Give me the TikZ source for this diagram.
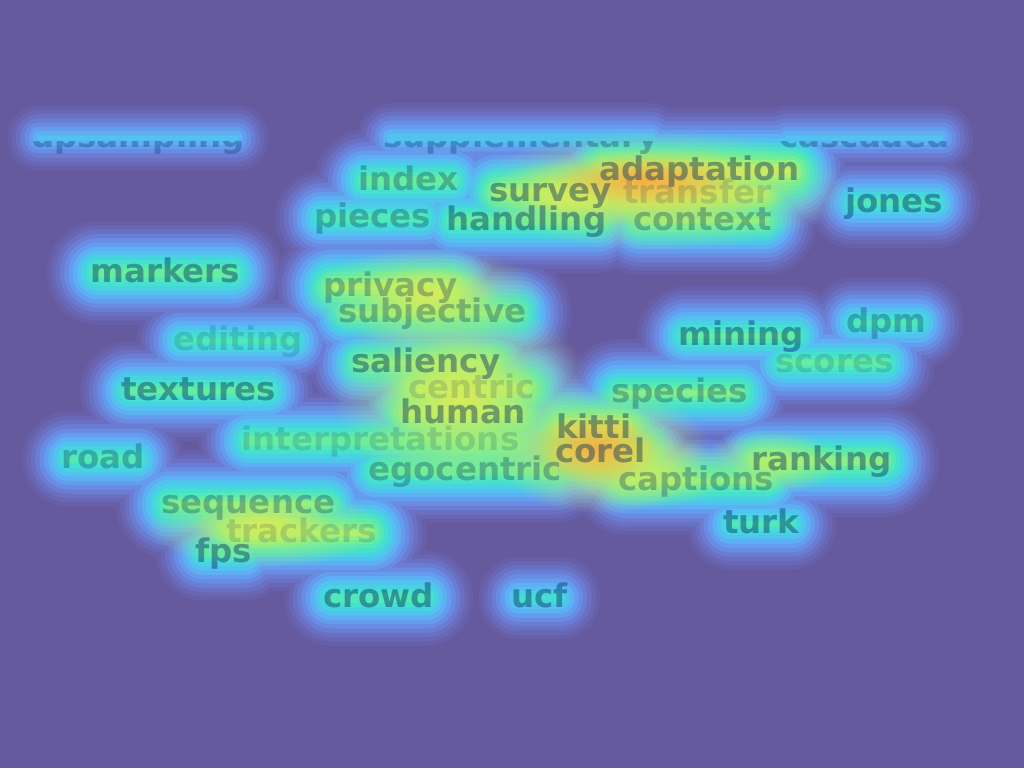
\documentclass[tikz,border=0pt]{standalone}
\usepackage{fontspec}
\setmainfont{DejaVu Sans}
\usetikzlibrary{backgrounds,fadings}
\definecolor{bgpurple}{HTML}{655A9D}
\definecolor{ink}{HTML}{002A5E}
\definecolor{lev1}{HTML}{6760A8}
\definecolor{lev2}{HTML}{6967B4}
\definecolor{lev3}{HTML}{6A70C2}
\definecolor{lev4}{HTML}{6A7DD2}
\definecolor{lev5}{HTML}{698CE2}
\definecolor{lev6}{HTML}{659DEE}
\definecolor{lev7}{HTML}{5EAFF4}
\definecolor{lev8}{HTML}{52C2EE}
\definecolor{lev9}{HTML}{47D3E2}
\definecolor{lev10}{HTML}{46E0CE}
\definecolor{lev11}{HTML}{52E8B8}
\definecolor{lev12}{HTML}{66EDA0}
\definecolor{lev13}{HTML}{8AF088}
\definecolor{lev14}{HTML}{B2F070}
\definecolor{lev15}{HTML}{D6EC5A}
\definecolor{lev16}{HTML}{EADC4E}
\definecolor{lev17}{HTML}{F2B046}
\tikzfading[name=hotfade, inner color=transparent!0, outer color=transparent!100]
\tikzset{word/.style={anchor=base west, inner sep=0pt, text=ink, text opacity=0.42,
		font=\fontsize{32.5}{32.5}\selectfont\bfseries},
	mid/.style={text opacity=0.3},
	faint/.style={text opacity=0.16},
	hot/.style={path fading=hotfade}}

\begin{document}
\begin{tikzpicture}[x=1pt,y=-1pt]
		\useasboundingbox (0,0) rectangle (1024,768);
		\begin{scope}
		\clip (0,141) rectangle (1024,768);
		\node[word, mid] (upsampling) at (31,147){upsampling};
		\node[word, mid] (supplementary) at (383,147){supplementary};
		\node[word, mid] (cascaded) at (779,147){cascaded};
		\end{scope}
		\node[word, mid] (index) at (358,190){index};
		\node[word] (survey) at (489,201){survey};
		\node[word] (adaptation) at (599,180){adaptation};
		\node[word, faint] (transfer) at (623,203){transfer};
		\node[word] (jones) at (845,212){jones};
		\node[word, mid] (pieces) at (314,227){pieces};
		\node[word] (handling) at (446,230){handling};
		\node[word, mid] (context) at (633,230){context};
		\node[word] (markers) at (90,282){markers};
		\node[word, mid] (privacy) at (323,296){privacy};
		\node[word, mid] (subjective) at (338,322){subjective};
		\node[word, faint] (editing) at (173,350){editing};
		\node[word] (mining) at (678,345){mining};
		\node[word, mid] (dpm) at (846,332){dpm};
		\node[word] (saliency) at (351,372){saliency};
		\node[word, faint] (scores) at (775,372){scores};
		\node[word, faint] (centric) at (408,398){centric};
		\node[word] (textures) at (121,400){textures};
		\node[word, mid] (species) at (611,402){species};
		\node[word] (human) at (400,423){human};
		\node[word] (kitti) at (556,438){kitti};
		\node[word, faint] (interpretations) at (241,450){interpretations};
		\node[word] (corel) at (555,462){corel};
		\node[word, mid] (road) at (61,468){road};
		\node[word] (ranking) at (751,470){ranking};
		\node[word, mid] (egocentric) at (368,480){egocentric};
		\node[word, mid] (captions) at (618,490){captions};
		\node[word, mid] (sequence) at (161,513){sequence};
		\node[word] (turk) at (723,533){turk};
		\node[word, faint] (trackers) at (226,542){trackers};
		\node[word] (fps) at (195,562){fps};
		\node[word] (crowd) at (323,607){crowd};
		\node[word] (ucf) at (511,607){ucf};
		\begin{scope}[on background layer]
		\fill[bgpurple] (0,0) rectangle (1024,768);
		\foreach \L in {1,...,15}
		\foreach \w/\P in {upsampling/6.5,supplementary/7,cascaded/6.5,index/11,survey/12.5,adaptation/13.5,transfer/13,jones/9.5,pieces/10,handling/11,context/11.5,markers/11,privacy/12.5,subjective/11.5,editing/9.5,mining/10.5,dpm/9.5,saliency/11.5,scores/10.5,centric/12.5,textures/10.5,species/11.5,human/12.5,kitti/13.5,interpretations/11,corel/13.5,road/10,ranking/12,egocentric/11,captions/11.5,sequence/11.5,turk/9.5,trackers/12.5,fps/10,crowd/10,ucf/8.5}
		{
			\pgfmathsetmacro\pad{(\P-\L)*4.3}
			\pgfmathsetmacro\r{max(\pad+8,1)}
			\ifdim\pad pt>-7pt
			\fill[lev\L, rounded corners=\r] ([shift={(-\pad,-18-\pad)}]\w.base west) rectangle ([shift={(\pad,\pad)}]\w.base east);
			\fi
		}
		\foreach \x/\y/\a/\b/\col in {660/190/95/30/lev14,570/196/45/18/lev14,425/296/60/24/lev14,460/390/65/48/lev14,650/472/40/18/lev14,265/527/60/20/lev14,770/462/35/16/lev14,470/445/60/16/lev13,
			655/186/70/20/lev16,570/196/25/10/lev15,428/294/35/14/lev15,460/395/40/30/lev15,600/450/55/32/lev15,262/525/35/12/lev15,645/180/45/12/lev17,595/448/32/18/lev17}
		\fill[\col, hot] (\x,\y) ellipse ({2*\a} and {2*\b});
		\end{scope}
\end{tikzpicture}
\end{document}
